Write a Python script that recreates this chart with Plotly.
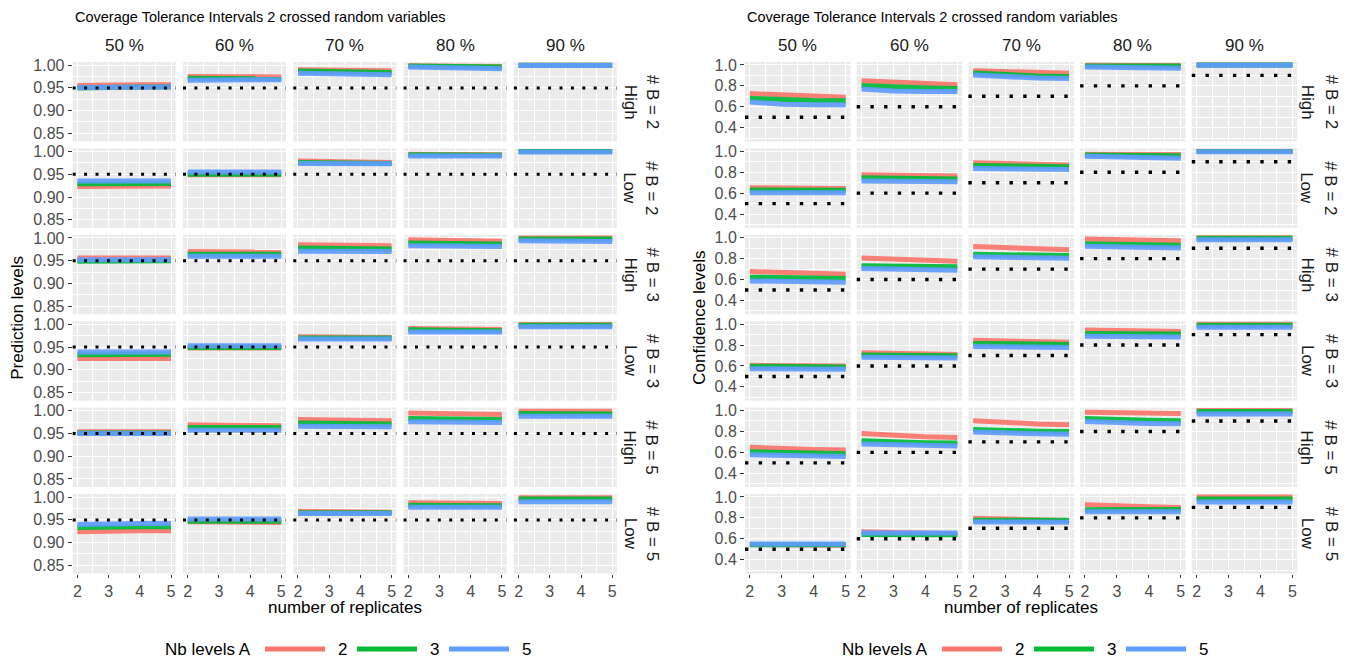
import plotly.graph_objects as go

# ---------------------------------------------------------------- data
replicates = [2, 3, 4, 5]
coverage_labels = ["50 %", "60 %", "70 %", "80 %", "90 %"]
row_level = ["High", "Low", "High", "Low", "High", "Low"]
row_nb_b = ["# B = 2", "# B = 2", "# B = 3", "# B = 3", "# B = 5", "# B = 5"]
nb_levels_a = ["2", "3", "5"]

nominal_prediction = 0.95
nominal_confidence = [0.5, 0.6, 0.7, 0.8, 0.9]

# prediction levels: [row][coverage column][replicate]
pred_a2 = [
    [[0.955, 0.957, 0.957, 0.957], [0.975, 0.974, 0.974, 0.974], [0.990, 0.989, 0.989, 0.988], [0.999, 0.998, 0.998, 0.997], [1.000, 1.000, 1.000, 1.000]],
    [[0.923, 0.924, 0.924, 0.924], [0.949, 0.949, 0.949, 0.949], [0.979, 0.977, 0.977, 0.976], [0.994, 0.993, 0.993, 0.993], [1.000, 1.000, 1.000, 1.000]],
    [[0.956, 0.956, 0.956, 0.956], [0.970, 0.969, 0.969, 0.969], [0.985, 0.984, 0.984, 0.983], [0.996, 0.995, 0.994, 0.993], [1.000, 1.000, 1.000, 1.000]],
    [[0.925, 0.925, 0.925, 0.925], [0.948, 0.948, 0.948, 0.948], [0.973, 0.972, 0.971, 0.971], [0.991, 0.990, 0.990, 0.989], [1.000, 1.000, 1.000, 1.000]],
    [[0.954, 0.954, 0.954, 0.954], [0.969, 0.968, 0.968, 0.967], [0.981, 0.980, 0.979, 0.978], [0.995, 0.994, 0.993, 0.992], [0.999, 0.999, 0.999, 0.999]],
    [[0.924, 0.926, 0.926, 0.926], [0.946, 0.946, 0.945, 0.944], [0.969, 0.968, 0.968, 0.967], [0.988, 0.987, 0.987, 0.986], [0.999, 0.999, 0.999, 0.999]],
]
pred_a3 = [
    [[0.950, 0.952, 0.952, 0.952], [0.971, 0.970, 0.970, 0.970], [0.987, 0.985, 0.985, 0.984], [0.998, 0.997, 0.997, 0.996], [1.000, 1.000, 1.000, 1.000]],
    [[0.929, 0.930, 0.930, 0.930], [0.950, 0.950, 0.950, 0.950], [0.976, 0.975, 0.975, 0.974], [0.993, 0.992, 0.992, 0.992], [1.000, 1.000, 1.000, 1.000]],
    [[0.949, 0.950, 0.950, 0.950], [0.964, 0.964, 0.964, 0.964], [0.978, 0.977, 0.977, 0.976], [0.989, 0.988, 0.988, 0.987], [0.998, 0.998, 0.998, 0.998]],
    [[0.933, 0.934, 0.934, 0.934], [0.949, 0.949, 0.949, 0.949], [0.970, 0.970, 0.970, 0.970], [0.988, 0.987, 0.987, 0.986], [0.998, 0.998, 0.998, 0.998]],
    [[0.951, 0.951, 0.951, 0.951], [0.963, 0.963, 0.963, 0.963], [0.973, 0.972, 0.972, 0.971], [0.983, 0.982, 0.981, 0.981], [0.994, 0.993, 0.993, 0.993]],
    [[0.933, 0.935, 0.935, 0.935], [0.947, 0.947, 0.947, 0.947], [0.966, 0.966, 0.966, 0.966], [0.982, 0.982, 0.982, 0.981], [0.996, 0.996, 0.996, 0.996]],
]
pred_a5 = [
    [[0.951, 0.952, 0.952, 0.952], [0.967, 0.968, 0.968, 0.968], [0.982, 0.980, 0.980, 0.979], [0.996, 0.994, 0.993, 0.992], [0.9995, 0.9995, 0.9995, 0.9995]],
    [[0.935, 0.935, 0.935, 0.935], [0.955, 0.955, 0.955, 0.955], [0.974, 0.973, 0.973, 0.973], [0.990, 0.990, 0.990, 0.990], [0.999, 0.999, 0.999, 0.999]],
    [[0.952, 0.952, 0.952, 0.952], [0.960, 0.960, 0.960, 0.960], [0.971, 0.971, 0.970, 0.970], [0.983, 0.982, 0.982, 0.981], [0.994, 0.993, 0.993, 0.992]],
    [[0.939, 0.939, 0.939, 0.939], [0.953, 0.953, 0.953, 0.953], [0.968, 0.968, 0.968, 0.968], [0.983, 0.983, 0.983, 0.983], [0.995, 0.995, 0.995, 0.995]],
    [[0.950, 0.950, 0.950, 0.950], [0.957, 0.957, 0.957, 0.957], [0.966, 0.966, 0.965, 0.965], [0.976, 0.975, 0.975, 0.974], [0.988, 0.988, 0.988, 0.988]],
    [[0.940, 0.942, 0.942, 0.942], [0.952, 0.952, 0.952, 0.952], [0.964, 0.964, 0.964, 0.964], [0.978, 0.978, 0.978, 0.978], [0.990, 0.990, 0.990, 0.990]],
]

# confidence levels: [row][coverage column][replicate]
conf_a2 = [
    [[0.726, 0.710, 0.700, 0.690], [0.848, 0.835, 0.822, 0.810], [0.945, 0.937, 0.928, 0.920], [0.998, 0.997, 0.996, 0.995], [1.000, 1.000, 1.000, 1.000]],
    [[0.652, 0.649, 0.647, 0.645], [0.777, 0.771, 0.768, 0.765], [0.890, 0.880, 0.875, 0.870], [0.972, 0.971, 0.970, 0.969], [1.000, 1.000, 1.000, 1.000]],
    [[0.677, 0.665, 0.658, 0.652], [0.806, 0.792, 0.782, 0.774], [0.916, 0.902, 0.892, 0.884], [0.987, 0.980, 0.975, 0.971], [1.000, 1.000, 1.000, 1.000]],
    [[0.606, 0.603, 0.601, 0.600], [0.726, 0.718, 0.713, 0.710], [0.845, 0.835, 0.830, 0.826], [0.945, 0.937, 0.932, 0.929], [1.000, 1.000, 1.000, 1.000]],
    [[0.648, 0.632, 0.627, 0.623], [0.781, 0.760, 0.750, 0.742], [0.903, 0.882, 0.872, 0.865], [0.984, 0.978, 0.974, 0.971], [1.000, 1.000, 1.000, 1.000]],
    [[0.545, 0.542, 0.540, 0.539], [0.668, 0.658, 0.652, 0.648], [0.797, 0.786, 0.779, 0.774], [0.926, 0.912, 0.905, 0.900], [1.000, 1.000, 1.000, 1.000]],
]
conf_a3 = [
    [[0.680, 0.665, 0.660, 0.658], [0.803, 0.788, 0.780, 0.774], [0.923, 0.905, 0.895, 0.890], [0.990, 0.990, 0.990, 0.990], [0.999, 0.999, 0.999, 0.999]],
    [[0.630, 0.629, 0.628, 0.628], [0.748, 0.741, 0.737, 0.735], [0.865, 0.858, 0.854, 0.852], [0.966, 0.963, 0.960, 0.958], [0.999, 0.999, 0.999, 0.999]],
    [[0.623, 0.616, 0.612, 0.610], [0.732, 0.727, 0.725, 0.723], [0.842, 0.835, 0.831, 0.829], [0.942, 0.935, 0.931, 0.929], [0.994, 0.994, 0.994, 0.994]],
    [[0.597, 0.593, 0.591, 0.590], [0.706, 0.701, 0.699, 0.697], [0.816, 0.811, 0.808, 0.806], [0.910, 0.908, 0.907, 0.906], [0.990, 0.990, 0.990, 0.990]],
    [[0.606, 0.596, 0.590, 0.587], [0.710, 0.699, 0.693, 0.690], [0.819, 0.808, 0.803, 0.800], [0.923, 0.912, 0.906, 0.903], [0.990, 0.990, 0.990, 0.990]],
    [[0.542, 0.542, 0.542, 0.542], [0.642, 0.641, 0.640, 0.639], [0.777, 0.777, 0.777, 0.777], [0.877, 0.878, 0.879, 0.880], [0.980, 0.980, 0.980, 0.980]],
]
conf_a5 = [
    [[0.645, 0.625, 0.620, 0.620], [0.770, 0.750, 0.745, 0.745], [0.903, 0.885, 0.875, 0.870], [0.980, 0.975, 0.971, 0.968], [0.998, 0.998, 0.998, 0.998]],
    [[0.603, 0.603, 0.603, 0.603], [0.716, 0.712, 0.711, 0.710], [0.835, 0.830, 0.828, 0.826], [0.952, 0.944, 0.939, 0.935], [0.997, 0.997, 0.997, 0.997]],
    [[0.587, 0.580, 0.576, 0.574], [0.706, 0.698, 0.693, 0.690], [0.819, 0.810, 0.806, 0.803], [0.919, 0.910, 0.906, 0.903], [0.980, 0.980, 0.980, 0.980]],
    [[0.574, 0.571, 0.569, 0.568], [0.684, 0.680, 0.678, 0.677], [0.787, 0.782, 0.779, 0.777], [0.884, 0.880, 0.878, 0.877], [0.970, 0.970, 0.970, 0.970]],
    [[0.577, 0.568, 0.564, 0.561], [0.680, 0.670, 0.664, 0.661], [0.794, 0.783, 0.777, 0.774], [0.894, 0.883, 0.877, 0.874], [0.968, 0.968, 0.968, 0.968]],
    [[0.550, 0.550, 0.550, 0.550], [0.655, 0.655, 0.655, 0.655], [0.761, 0.760, 0.759, 0.758], [0.858, 0.858, 0.858, 0.858], [0.952, 0.952, 0.952, 0.952]],
]

# ---------------------------------------------------------------- styling
W, H = 1359, 662
FONT = "Liberation Sans, Arial, Helvetica, sans-serif"
COLORS = ["#F8766D", "#00BA38", "#619CFF"]
PANEL_BG = "#EBEBEB"
TEXT_DARK = "#1A1A1A"
TICK_TEXT = "#4D4D4D"
TICK_SIZE = 16
STRIP_SIZE = 17
LABEL_SIZE = 17
TITLE_SIZE = 14.5


def px_x(p):
    return p / W


def px_y(p):
    return 1 - p / H


ROW_TOP, ROW_PITCH, ROW_H = 62.0, 86.4, 79.5

charts = [
    dict(
        title="Coverage Tolerance Intervals 2 crossed random variables",
        ytitle="Prediction levels",
        series=[pred_a2, pred_a3, pred_a5],
        nominal=[nominal_prediction] * 5,
        col_left=72.7, col_pitch=110.3, col_w=103.0,
        yrange=[0.832, 1.007],
        ymajor=[0.85, 0.90, 0.95, 1.00], ymajor_fmt="{:.2f}",
        yminor=[0.825, 0.875, 0.925, 0.975],
        dot_dash="3px,8.4px", dot_w=3.0,
        ytitle_x=18, strip1_x=630, strip2_x=652,
        legend_x=163,
    ),
    dict(
        title="Coverage Tolerance Intervals 2 crossed random variables",
        ytitle="Confidence levels",
        series=[conf_a2, conf_a3, conf_a5],
        nominal=nominal_confidence,
        col_left=745.0, col_pitch=111.7, col_w=105.5,
        yrange=[0.268, 1.028],
        ymajor=[0.4, 0.6, 0.8, 1.0], ymajor_fmt="{:.1f}",
        yminor=[0.3, 0.5, 0.7, 0.9],
        dot_dash="3.4px,10.3px", dot_w=3.4,
        ytitle_x=700, strip1_x=1307, strip2_x=1331,
        legend_x=840,
    ),
]

fig = go.Figure()
layout = dict(
    width=W, height=H,
    margin=dict(l=0, r=0, t=0, b=0, autoexpand=False),
    paper_bgcolor="white",
    plot_bgcolor=PANEL_BG,
    showlegend=False,
    font=dict(family=FONT, color=TEXT_DARK),
)
shapes, annotations = [], []

idx = 0
for chart in charts:
    for r in range(6):
        for c in range(5):
            idx += 1
            xname = "xaxis" if idx == 1 else f"xaxis{idx}"
            yname = "yaxis" if idx == 1 else f"yaxis{idx}"
            xref = "x" if idx == 1 else f"x{idx}"
            yref = "y" if idx == 1 else f"y{idx}"

            left = chart["col_left"] + c * chart["col_pitch"]
            top = ROW_TOP + r * ROW_PITCH
            bottom_row = r == 5
            first_col = c == 0

            layout[xname] = dict(
                domain=[px_x(left), px_x(left + chart["col_w"])],
                anchor=yref, range=[1.85, 5.15], automargin=False,
                tickvals=replicates, ticktext=[str(v) for v in replicates],
                showticklabels=bottom_row,
                ticks="outside" if bottom_row else "", ticklen=3.5,
                tickcolor="#333333", tickwidth=1,
                tickfont=dict(size=TICK_SIZE, color=TICK_TEXT, family=FONT),
                showgrid=True, gridcolor="white", gridwidth=1.1,
                minor=dict(tickvals=[2.5, 3.5, 4.5], showgrid=True,
                           gridcolor="white", gridwidth=0.55),
                zeroline=False, showline=False, fixedrange=True,
            )
            layout[yname] = dict(
                domain=[px_y(top + ROW_H), px_y(top)],
                anchor=xref, range=chart["yrange"], automargin=False,
                tickvals=chart["ymajor"],
                ticktext=[chart["ymajor_fmt"].format(v) for v in chart["ymajor"]],
                showticklabels=first_col,
                ticks="outside" if first_col else "", ticklen=4,
                tickcolor="#333333", tickwidth=1,
                tickfont=dict(size=TICK_SIZE, color=TICK_TEXT, family=FONT),
                showgrid=True, gridcolor="white", gridwidth=1.1,
                minor=dict(tickvals=chart["yminor"], showgrid=True,
                           gridcolor="white", gridwidth=0.55),
                zeroline=False, showline=False, fixedrange=True,
            )

            for k, series in enumerate(chart["series"]):
                fig.add_trace(go.Scatter(
                    x=replicates, y=series[r][c], mode="lines",
                    line=dict(color=COLORS[k], width=5),
                    opacity=0.92, name=nb_levels_a[k],
                    xaxis=xref, yaxis=yref, hoverinfo="skip",
                ))

            # nominal level as a dotted reference line
            shapes.append(dict(
                type="line", xref=f"{xref} domain", yref=yref,
                x0=0, x1=1, y0=chart["nominal"][c], y1=chart["nominal"][c],
                line=dict(color="black", width=chart["dot_w"], dash=chart["dot_dash"]),
                layer="above",
            ))

            if r == 0:
                annotations.append(dict(
                    text=coverage_labels[c], xref="paper", yref="paper",
                    x=px_x(left + chart["col_w"] / 2), y=px_y(46),
                    xanchor="center", yanchor="middle", showarrow=False,
                    font=dict(size=STRIP_SIZE, color=TEXT_DARK, family=FONT),
                ))
        # row strips on the right
        top = ROW_TOP + r * ROW_PITCH
        for label, xp in ((row_level[r], chart["strip1_x"]), (row_nb_b[r], chart["strip2_x"])):
            annotations.append(dict(
                text=label, xref="paper", yref="paper",
                x=px_x(xp), y=px_y(top + ROW_H / 2), textangle=90,
                xanchor="center", yanchor="middle", showarrow=False,
                font=dict(size=STRIP_SIZE, color=TEXT_DARK, family=FONT),
            ))

    # overall chart texts
    span_l = chart["col_left"]
    span_r = chart["col_left"] + 4 * chart["col_pitch"] + chart["col_w"]
    annotations.append(dict(
        text=chart["title"], xref="paper", yref="paper",
        x=px_x(span_l), y=px_y(17), xanchor="left", yanchor="middle",
        showarrow=False, font=dict(size=TITLE_SIZE, color="black", family=FONT),
    ))
    annotations.append(dict(
        text="number of replicates", xref="paper", yref="paper",
        x=px_x((span_l + span_r) / 2), y=px_y(607), xanchor="center", yanchor="middle",
        showarrow=False, font=dict(size=LABEL_SIZE, color="black", family=FONT),
    ))
    annotations.append(dict(
        text=chart["ytitle"], xref="paper", yref="paper",
        x=px_x(chart["ytitle_x"]), y=px_y((ROW_TOP + 5 * ROW_PITCH + ROW_H + ROW_TOP) / 2),
        textangle=-90, xanchor="center", yanchor="middle",
        showarrow=False, font=dict(size=LABEL_SIZE, color="black", family=FONT),
    ))

    # legend row
    lx = chart["legend_x"]
    annotations.append(dict(
        text="Nb levels A", xref="paper", yref="paper",
        x=px_x(lx), y=px_y(649), xanchor="left", yanchor="middle",
        showarrow=False, font=dict(size=LABEL_SIZE, color="black", family=FONT),
    ))
    key_x = lx + 102
    for k, lab in enumerate(nb_levels_a):
        shapes.append(dict(
            type="line", xref="paper", yref="paper",
            x0=px_x(key_x), x1=px_x(key_x + 60), y0=px_y(649), y1=px_y(649),
            line=dict(color=COLORS[k], width=5),
        ))
        annotations.append(dict(
            text=lab, xref="paper", yref="paper",
            x=px_x(key_x + 71), y=px_y(649), xanchor="left", yanchor="middle",
            showarrow=False, font=dict(size=LABEL_SIZE, color="black", family=FONT),
        ))
        key_x += 92

layout["shapes"] = shapes
layout["annotations"] = annotations
fig.update_layout(**layout)
fig.write_html("out.html")
